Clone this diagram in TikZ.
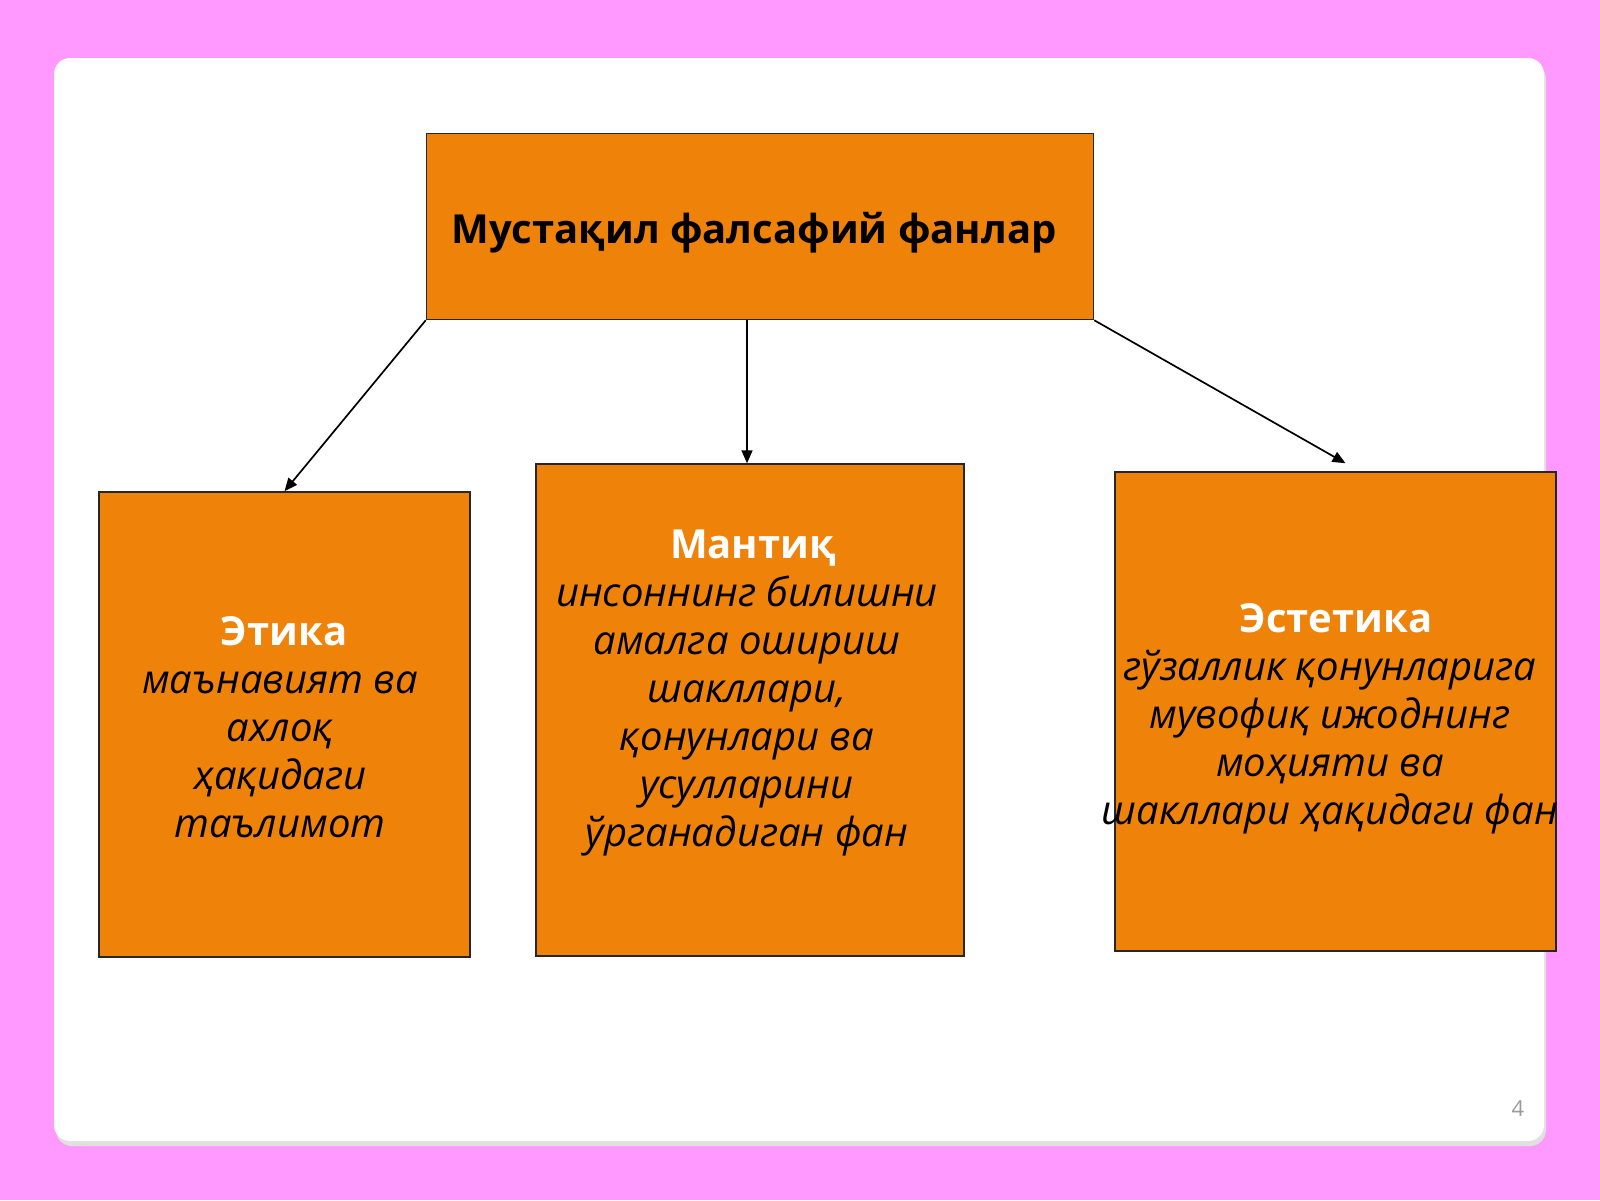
\documentclass[tikz,border=0pt]{standalone}
\usepackage{fontspec}
\setmainfont{Open Sans}
\usetikzlibrary{arrows.meta,positioning,calc}
\definecolor{pagebg}{HTML}{FF99FF}
\definecolor{boxfill}{HTML}{EF830A}
\definecolor{pagenum}{HTML}{9A9A9A}
\newcommand{\hd}[1]{{\upshape\bfseries\color{white}#1}}

\begin{document}
\begin{tikzpicture}[x=1pt,y=-1pt,>={Triangle[length=13pt,width=11pt]},
  box/.style={draw=black!85,line width=1.5pt,fill=boxfill,inner sep=0pt},
  body/.style={font=\fontsize{40}{48}\selectfont\itshape,align=center,text=black,inner sep=0pt},
  link/.style={->,line width=1.7pt}]
\useasboundingbox (0,0) rectangle (1600,1200);

%% page and slide card
\fill[pagebg] (0,0) rectangle (1600,1200);
\fill[black!12,rounded corners=16pt] (56,63) rectangle (1546,1146);
\fill[white,rounded corners=16pt] (54,58) rectangle (1544,1141);

%% heading box
\node[box,minimum width=667pt,minimum height=186pt] (fanlar) at (760,226.5) {};
\node[font=\fontsize{40}{48}\selectfont\bfseries,inner sep=0pt] (fanlarlab) at (754,233) {Мустақил фалсафий фанлар};

%% three branches
\node[box,minimum width=371pt,minimum height=465pt] (etika) at (284.5,724.5) {};
\node[body] (etikalab) at (280,727) {\hd{\hspace*{8pt}Этика}\\ маънавият ва\\ ахлоқ\\ ҳақидаги\\ таълимот};

\node[box,minimum width=428pt,minimum height=492pt] (mantiq) at (750,710) {};
\node[body] (mantiqlab) at (747,693) {\hd{\hspace*{12pt}Мантиқ}\\ инсоннинг билишни\\ амалга ошириш\\ шакллари,\\ қонунлари ва\\ усулларини\\ ўрганадиган фан};

\node[box,minimum width=441pt,minimum height=479pt] (estetika) at (1335.5,711.5) {};
\node[body] (estetikalab) at (1330,719) {\hd{\hspace*{12pt}Эстетика}\\ гўзаллик қонунларига\\ мувофиқ ижоднинг\\ моҳияти ва\\ шакллари ҳақидаги фан};

%% slide number
\node[text=pagenum,font=\fontsize{22}{26}\selectfont] (pnum) at (1518,1109) {4};

%% arrows
\draw[link] ([xshift=-3pt]mantiq.north |- fanlar.south) -- ([xshift=-3pt]mantiq.north);
\draw[link] (fanlar.south west) -- (etika.north);
\draw[link] (fanlar.south east) -- ($(estetika.north)+(10,-8)$);
\end{tikzpicture}
\end{document}
